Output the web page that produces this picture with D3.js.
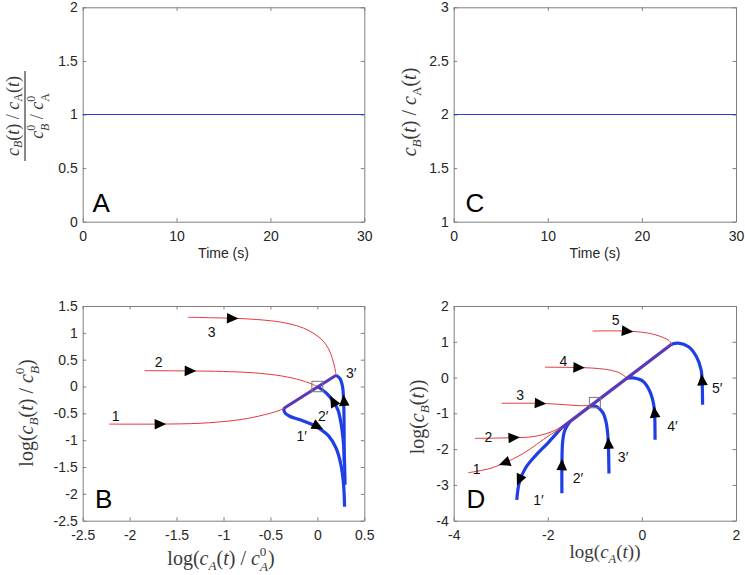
<!DOCTYPE html>
<html><head><meta charset="utf-8">
<script src="https://cdn.jsdelivr.net/npm/d3@7"></script>
<style>body{margin:0;background:#fff}</style>
</head><body>
<svg id="chart" width="745" height="575"></svg>
<script>
// ---------------- data ----------------
const timeSpan = [0, 30];
const ratioA = [1, 1];
const ratioC = [2, 2];
const xTicksA = [0, 10, 20, 30];
const yTicksA = [0, 0.5, 1, 1.5, 2];
const xTicksC = [0, 10, 20, 30];
const yTicksC = [1, 1.5, 2, 2.5, 3];
const xTicksB = [-2.5, -2, -1.5, -1, -0.5, 0, 0.5];
const yTicksB = [-2.5, -2, -1.5, -1, -0.5, 0, 0.5, 1, 1.5];
const xTicksD = [-4, -2, 0, 2];
const yTicksD = [-4, -3, -2, -1, 0, 1, 2];

// Panel B trajectories (log normalized)
const bRed1 = [[-2.22,-0.70],[-1.68,-0.70],[-1.25,-0.685],[-0.9,-0.635],[-0.7,-0.58],[-0.55,-0.52],[-0.43,-0.46],[-0.36,-0.41]];
const bRed2 = [[-1.84,0.295],[-1.36,0.29],[-1.0,0.28],[-0.72,0.26],[-0.5,0.225],[-0.36,0.19],[-0.18,0.12],[-0.08,0.06],[0,0]];
const bRed3 = [[-1.38,1.29],[-1.1,1.28],[-0.8,1.265],[-0.5,1.225],[-0.3,1.17],[-0.15,1.09],[-0.03,0.98],[0.06,0.85],[0.12,0.70],[0.16,0.52],[0.185,0.35],[0.20,0.21]];
const bBlue1 = [[-0.36,-0.41],[-0.345,-0.49],[-0.30,-0.55],[-0.185,-0.62],[-0.08,-0.69],[0.01,-0.77],[0.12,-0.92],[0.20,-1.15],[0.25,-1.45],[0.278,-1.80],[0.29,-2.24]];
const bBlue2 = [[0,0],[0.10,-0.13],[0.17,-0.28],[0.22,-0.44],[0.255,-0.72],[0.275,-1.0],[0.287,-1.3],[0.295,-1.83]];
const bBlue3 = [[0.20,0.21],[0.24,0.15],[0.268,0.0],[0.28,-0.3],[0.285,-0.8],[0.285,-1.4]];
const bDiag = [[-0.36,-0.41],[0.20,0.21]];
const bSquare = [0, 0];
const bArrows = [
  {c:"r3", x:-0.91, y:1.27, dir:1}, {c:"r2", x:-1.36, y:0.29, dir:1}, {c:"r1", x:-1.68, y:-0.70, dir:1},
  {c:"b1", x:0.0, y:-0.74, dir:1}, {c:"b2", x:0.17, y:-0.28, dir:-1}, {c:"b3", x:0.283, y:-0.27, dir:-1}
];
const bLabels = [
  {t:"3", x:-1.125, y:1.02}, {t:"2", x:-1.69, y:0.46}, {t:"1", x:-2.15, y:-0.56},
  {t:"3\u2032", x:0.36, y:0.25}, {t:"2\u2032", x:0.063, y:-0.56}, {t:"1\u2032", x:-0.167, y:-0.92}
];

// Panel D trajectories (log absolute)
const dRed1 = [[-3.69,-2.66],[-3.23,-2.54],[-2.91,-2.38],[-2.52,-2.12],[-2.24,-1.87],[-1.95,-1.6],[-1.72,-1.42]];
const dRed2 = [[-3.55,-1.70],[-2.73,-1.68],[-2.31,-1.65],[-1.95,-1.53],[-1.72,-1.39],[-1.53,-1.23]];
const dRed3 = [[-2.98,-0.72],[-2.17,-0.72],[-1.67,-0.755],[-1.32,-0.785],[-1.08,-0.78]];
const dRed4 = [[-2.06,0.29],[-1.35,0.28],[-1.0,0.26],[-0.68,0.21],[-0.47,0.13],[-0.36,0.03],[-0.32,-0.02]];
const dRed5 = [[-1.05,1.30],[-0.32,1.30],[0.10,1.25],[0.30,1.19],[0.45,1.12],[0.57,1.04],[0.63,0.93]];
const dBlue1 = [[-2.66,-3.42],[-2.60,-2.90],[-2.47,-2.52],[-2.26,-2.18],[-2.0,-1.83],[-1.72,-1.42]];
const dBlue2 = [[-1.70,-3.23],[-1.70,-2.45],[-1.685,-1.80],[-1.645,-1.50],[-1.58,-1.33],[-1.53,-1.23]];
const dBlue3 = [[-1.08,-0.78],[-0.95,-0.82],[-0.83,-0.98],[-0.76,-1.25],[-0.725,-1.6],[-0.71,-2.0],[-0.70,-2.68]];
const dBlue4 = [[-0.32,-0.02],[-0.18,-0.01],[0.03,-0.11],[0.17,-0.39],[0.25,-0.75],[0.27,-1.0],[0.28,-1.74]];
const dBlue5 = [[0.63,0.93],[0.77,0.96],[0.99,0.86],[1.16,0.58],[1.26,0.21],[1.28,-0.11],[1.29,-0.76]];
const dDiag = [[-1.72,-1.42],[0.63,0.93]];
const dSquare = [-1, -0.7];
const dArrows = [
  {c:"r5", x:-0.32, y:1.30, dir:1}, {c:"r4", x:-1.35, y:0.28, dir:1}, {c:"r3", x:-2.17, y:-0.72, dir:1},
  {c:"r2", x:-2.73, y:-1.68, dir:1}, {c:"r1", x:-2.91, y:-2.38, dir:-1},
  {c:"b1", x:-2.6, y:-2.85, dir:-1}, {c:"b2", x:-1.70, y:-2.45, dir:1}, {c:"b3", x:-0.71, y:-1.85, dir:-1},
  {c:"b4", x:0.27, y:-0.98, dir:-1}, {c:"b5", x:1.28, y:-0.08, dir:-1}
];
const dLabels = [
  {t:"5", x:-0.557, y:1.61}, {t:"4", x:-1.67, y:0.46}, {t:"3", x:-2.59, y:-0.49},
  {t:"2", x:-3.26, y:-1.65}, {t:"1", x:-3.51, y:-2.55},
  {t:"1\u2032", x:-2.2, y:-3.42}, {t:"2\u2032", x:-1.36, y:-2.81}, {t:"3\u2032", x:-0.40, y:-2.21},
  {t:"4\u2032", x:0.65, y:-1.37}, {t:"5\u2032", x:1.6, y:-0.30}
];

// ---------------- drawing ----------------
const svg = d3.select("#chart");
svg.append("rect").attr("width", 745).attr("height", 575).attr("fill", "#fff");

const RED = "#e4383a", BLUE = "#1f3fe6", PURPLE = "#5a38b8", AXIS = "#7f7f7f", TXT = "#262626";
const SANS = "'Liberation Sans', Arial, sans-serif";
const SERIF = "'Liberation Serif', 'Times New Roman', serif";

function makePanel(xr, yr, xdom, ydom, xt, yt) {
  const x = d3.scaleLinear().domain(xdom).range(xr);
  const y = d3.scaleLinear().domain(ydom).range(yr);
  const g = svg.append("g");
  const fmt = d => String(d);
  const mk = (axis, tf) => axis.tickSize(-3.5).tickSizeOuter(0).tickFormat(tf);
  const styleAx = sel => {
    sel.selectAll("path.domain").attr("stroke", AXIS).attr("stroke-width", 1);
    sel.selectAll(".tick line").attr("stroke", AXIS);
    sel.selectAll("text").attr("fill", TXT).attr("font-family", SANS).attr("font-size", 14);
  };
  g.append("g").attr("transform", `translate(0,${yr[0]})`)
    .call(mk(d3.axisBottom(x).tickValues(xt), fmt).tickPadding(9)).call(styleAx);
  g.append("g").attr("transform", `translate(0,${yr[1]})`)
    .call(mk(d3.axisTop(x).tickValues(xt), () => "")).call(styleAx);
  g.append("g").attr("transform", `translate(${xr[0]},0)`)
    .call(mk(d3.axisLeft(y).tickValues(yt), fmt).tickPadding(5)).call(styleAx);
  g.append("g").attr("transform", `translate(${xr[1]},0)`)
    .call(mk(d3.axisRight(y).tickValues(yt), () => "")).call(styleAx);
  return {x, y, g};
}

// rich text: segments {t, it, sub, sup, back}; stacked scripts (back) get wider separation
function rich(sel, segs, fs, subK = 0.26, supK = 0.38) {
  let cur = 0;
  segs.forEach((s, i) => {
    const small = s.sub || s.sup;
    const stacked = s.back || (segs[i + 1] && segs[i + 1].back);
    const sk = stacked ? 0.32 : subK, pk = stacked ? 0.47 : supK;
    const target = s.sub ? sk * fs : (s.sup ? -pk * fs : 0);
    const ts = sel.append("tspan").text(s.t)
      .attr("dy", target - cur)
      .attr("font-size", small ? fs * 0.66 : fs)
      .attr("font-style", s.it ? "italic" : "normal");
    if (s.back) ts.attr("dx", -s.back);
    cur = target;
  });
}

// ---- Panel A ----
const pA = makePanel([82.7, 364.3], [221.7, 7.3], [0, 30], [0, 2], xTicksA, yTicksA);
pA.g.append("path").datum(timeSpan.map((t, i) => [t, ratioA[i]]))
  .attr("d", d3.line().x(d => pA.x(d[0])).y(d => pA.y(d[1])))
  .attr("stroke", "#2a3fd0").attr("stroke-width", 1.1).attr("fill", "none");
pA.g.append("text").attr("x", 223.5).attr("y", 258).attr("text-anchor", "middle")
  .attr("font-family", SANS).attr("font-size", 14).attr("fill", TXT).text("Time (s)");
pA.g.append("text").attr("x", 92.5).attr("y", 211.7).attr("font-family", SANS)
  .attr("font-size", 26).attr("fill", "#000").text("A");
{
  const fg = svg.append("g").attr("transform", "translate(25,116) rotate(-90)")
    .attr("font-family", SERIF).attr("fill", "#3a3a3a");
  const num = fg.append("text").attr("x", 0).attr("y", -6.5).attr("text-anchor", "middle");
  rich(num, [{t:"c",it:1},{t:"B",it:1,sub:1},{t:"("},{t:"t",it:1},{t:") / "},{t:"c",it:1},{t:"A",sub:1},{t:"("},{t:"t",it:1},{t:")"}], 18, 0.2);
  fg.append("line").attr("x1", -45).attr("x2", 45).attr("y1", 0).attr("y2", 0)
    .attr("stroke", "#3a3a3a").attr("stroke-width", 1.2);
  const den = fg.append("text").attr("x", 0).attr("y", 18).attr("text-anchor", "middle");
  rich(den, [{t:"c",it:1},{t:"0",sup:1},{t:"B",it:1,sub:1,back:6},{t:" / "},{t:"c",it:1},{t:"0",sup:1},{t:"A",sub:1,back:6}], 18);
}

// ---- Panel C ----
const pC = makePanel([453.7, 736], [221.7, 7.3], [0, 30], [1, 3], xTicksC, yTicksC);
pC.g.append("path").datum(timeSpan.map((t, i) => [t, ratioC[i]]))
  .attr("d", d3.line().x(d => pC.x(d[0])).y(d => pC.y(d[1])))
  .attr("stroke", "#2a3fd0").attr("stroke-width", 1.1).attr("fill", "none");
pC.g.append("text").attr("x", 595).attr("y", 258).attr("text-anchor", "middle")
  .attr("font-family", SANS).attr("font-size", 14).attr("fill", TXT).text("Time (s)");
pC.g.append("text").attr("x", 465.5).attr("y", 211.7).attr("font-family", SANS)
  .attr("font-size", 26).attr("fill", "#000").text("C");
{
  const t = svg.append("text").attr("transform", "translate(416,112) rotate(-90)")
    .attr("text-anchor", "middle").attr("font-family", SERIF).attr("fill", "#3a3a3a");
  rich(t, [{t:"c",it:1},{t:"B",it:1,sub:1},{t:"("},{t:"t",it:1},{t:") / "},{t:"c",it:1},{t:"A",sub:1},{t:"("},{t:"t",it:1},{t:")"}], 20);
}

// ---- phase panels ----
function drawPhase(p, curves, diag, square, arrows, labels) {
  const line = d3.line().x(d => p.x(d[0])).y(d => p.y(d[1])).curve(d3.curveCatmullRom.alpha(0.5));
  Object.keys(curves).filter(k => k[0] === "b").forEach(k => {
    p.g.append("path").attr("d", line(curves[k])).attr("fill", "none")
      .attr("stroke", BLUE).attr("stroke-width", 3.2).attr("stroke-linecap", "butt").attr("stroke-linejoin", "round");
  });
  Object.keys(curves).filter(k => k[0] === "r").forEach(k => {
    p.g.append("path").attr("d", line(curves[k])).attr("fill", "none")
      .attr("stroke", RED).attr("stroke-width", 1);
  });
  p.g.append("path").attr("d", d3.line().x(d => p.x(d[0])).y(d => p.y(d[1]))(diag))
    .attr("fill", "none").attr("stroke", PURPLE).attr("stroke-width", 3.2);
  p.g.append("rect").attr("x", p.x(square[0]) - 5.5).attr("y", p.y(square[1]) - 5.2)
    .attr("width", 11).attr("height", 10.4).attr("fill", "none").attr("stroke", "#777").attr("stroke-width", 1);
  arrows.forEach(a => {
    const pts = curves[a.c].map(d => [p.x(d[0]), p.y(d[1])]);
    const px = p.x(a.x), py = p.y(a.y);
    let best = 0, bd = Infinity;
    for (let i = 0; i < pts.length - 1; i++) {
      const mx = (pts[i][0] + pts[i+1][0]) / 2, my = (pts[i][1] + pts[i+1][1]) / 2;
      const dd = (mx - px) ** 2 + (my - py) ** 2;
      if (dd < bd) { bd = dd; best = i; }
    }
    const dx = (pts[best+1][0] - pts[best][0]) * a.dir, dy = (pts[best+1][1] - pts[best][1]) * a.dir;
    const ang = Math.atan2(dy, dx) * 180 / Math.PI;
    p.g.append("path").attr("d", "M6.5,0L-5,-5.3L-5,5.3Z").attr("fill", "#000")
      .attr("transform", `translate(${px},${py}) rotate(${ang})`);
  });
  labels.forEach(l => {
    p.g.append("text").attr("x", p.x(l.x)).attr("y", p.y(l.y)).attr("dy", "0.35em")
      .attr("text-anchor", "middle").attr("font-family", SANS).attr("font-size", 14)
      .attr("fill", "#111").text(l.t);
  });
}

const pB = makePanel([82.7, 364.3], [520.7, 306], [-2.5, 0.5], [-2.5, 1.5], xTicksB, yTicksB);
drawPhase(pB, {b1: bBlue1, b2: bBlue2, b3: bBlue3, r1: bRed1, r2: bRed2, r3: bRed3}, bDiag, bSquare, bArrows, bLabels);
pB.g.append("text").attr("x", 95).attr("y", 508.3).attr("font-family", SANS)
  .attr("font-size", 26).attr("fill", "#000").text("B");
{
  const t = svg.append("text").attr("x", 221).attr("y", 565).attr("text-anchor", "middle")
    .attr("font-family", SERIF).attr("fill", "#3a3a3a");
  rich(t, [{t:"log("},{t:"c",it:1},{t:"A",it:1,sub:1},{t:"("},{t:"t",it:1},{t:") / "},{t:"c",it:1},{t:"0",sup:1},{t:"A",it:1,sub:1,back:6.5},{t:")"}], 20);
  const t2 = svg.append("text").attr("transform", "translate(33,413) rotate(-90)").attr("text-anchor", "middle")
    .attr("font-family", SERIF).attr("fill", "#3a3a3a");
  rich(t2, [{t:"log("},{t:"c",it:1},{t:"B",it:1,sub:1},{t:"("},{t:"t",it:1},{t:") / "},{t:"c",it:1},{t:"0",sup:1},{t:"B",it:1,sub:1,back:6.5},{t:")"}], 20);
}

const pD = makePanel([453.7, 736], [520.7, 306], [-4, 2], [-4, 2], xTicksD, yTicksD);
drawPhase(pD, {b1: dBlue1, b2: dBlue2, b3: dBlue3, b4: dBlue4, b5: dBlue5, r1: dRed1, r2: dRed2, r3: dRed3, r4: dRed4, r5: dRed5}, dDiag, dSquare, dArrows, dLabels);
pD.g.append("text").attr("x", 466.5).attr("y", 508.3).attr("font-family", SANS)
  .attr("font-size", 26).attr("fill", "#000").text("D");
{
  const t = svg.append("text").attr("x", 605).attr("y", 558).attr("text-anchor", "middle")
    .attr("font-family", SERIF).attr("fill", "#3a3a3a");
  rich(t, [{t:"log("},{t:"c",it:1},{t:"A",it:1,sub:1},{t:"("},{t:"t",it:1},{t:"))"}], 19);
  const t2 = svg.append("text").attr("transform", "translate(424,417) rotate(-90)").attr("text-anchor", "middle")
    .attr("font-family", SERIF).attr("fill", "#3a3a3a");
  rich(t2, [{t:"log("},{t:"c",it:1},{t:"B",it:1,sub:1},{t:"("},{t:"t",it:1},{t:"))"}], 20);
}
</script>
</body></html>
